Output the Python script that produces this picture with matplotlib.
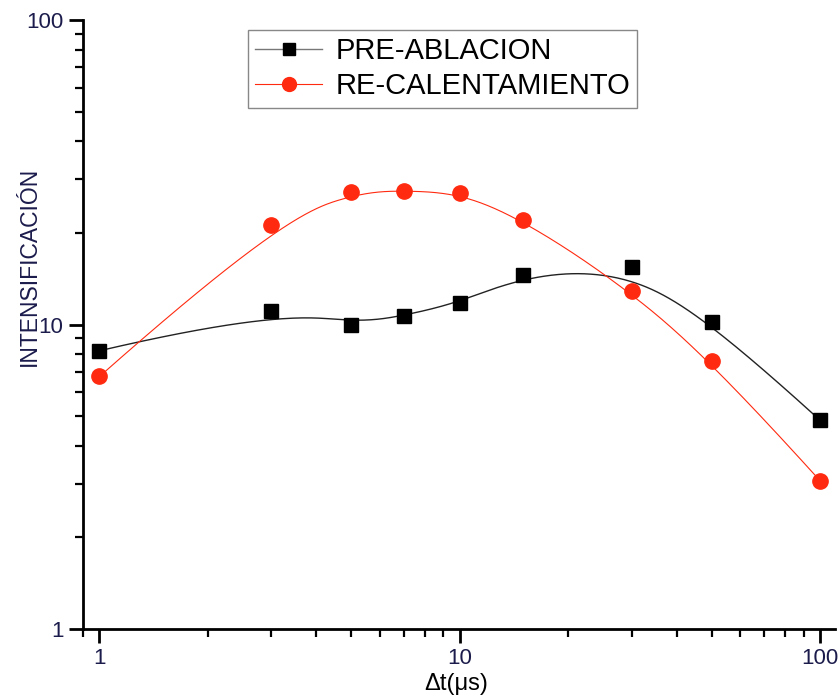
import numpy as np
import matplotlib
matplotlib.use('Agg')
import matplotlib.pyplot as plt
from matplotlib.ticker import LogLocator, NullFormatter, FixedLocator, FixedFormatter

plt.rcParams['font.family'] = ['Liberation Sans', 'DejaVu Sans']

# data
dt_us = [1, 3, 5, 7, 10, 15, 30, 50, 100]
pre_ablacion = [8.2, 11.1, 10.0, 10.7, 11.8, 14.5, 15.4, 10.2, 4.85]
re_calentamiento = [6.75, 21.3, 27.3, 27.5, 27.1, 22.1, 12.9, 7.6, 3.07]

NAVY = '#1c1c4c'
RED = '#ff2a10'


def bspline(xs, ys, n=400, k=3):
    # clamped cubic B-spline using the points as control points (log-log space),
    # like Origin's "B-Spline" line connect
    px = np.log10(xs)
    py = np.log10(ys)
    m = len(px)
    knots = np.concatenate([np.zeros(k), np.arange(m - k + 1), np.full(k, m - k)]).astype(float)
    t = np.linspace(0, m - k, n)
    t[-1] -= 1e-9

    def basis(i, d, t):
        if d == 0:
            return ((knots[i] <= t) & (t < knots[i + 1])).astype(float)
        out = np.zeros_like(t)
        den1 = knots[i + d] - knots[i]
        den2 = knots[i + d + 1] - knots[i + 1]
        if den1 > 0:
            out += (t - knots[i]) / den1 * basis(i, d - 1, t)
        if den2 > 0:
            out += (knots[i + d + 1] - t) / den2 * basis(i + 1, d - 1, t)
        return out

    bx = np.zeros(n)
    by = np.zeros(n)
    for i in range(m):
        b = basis(i, k, t)
        bx += b * px[i]
        by += b * py[i]
    return 10 ** bx, 10 ** by


fig = plt.figure(figsize=(8.4, 7.0), dpi=100)
ax = fig.add_axes([0.0988, 0.1014, 0.8952, 0.8700])

cx, cy = bspline(dt_us, pre_ablacion)
ax.plot(cx, cy, color='#222222', lw=1.0, zorder=2)
cx, cy = bspline(dt_us, re_calentamiento)
ax.plot(cx, cy, color=RED, lw=0.8, zorder=2)

ax.plot(dt_us, pre_ablacion, ls='none', marker='s', ms=10, color='black', zorder=3)
ax.plot(dt_us, re_calentamiento, ls='none', marker='o', ms=11, color=RED, zorder=3)

# legend proxies
h1, = ax.plot([], [], color='#777777', lw=1.0, marker='s', ms=9, mfc='black', mec='black')
h2, = ax.plot([], [], color=RED, lw=0.8, marker='o', ms=10, mfc=RED, mec=RED)
leg = ax.legend([h1, h2], ['PRE-ABLACION', 'RE-CALENTAMIENTO'],
                loc='upper left', bbox_to_anchor=(0.219, 0.984), fontsize=21,
                frameon=True, fancybox=False, edgecolor='#888888', framealpha=1,
                handlelength=2.3, handletextpad=0.45, borderpad=0.25, labelspacing=0.25,
                borderaxespad=0)
leg.get_frame().set_linewidth(1.0)

ax.set_xscale('log')
ax.set_yscale('log')
ax.set_xlim(0.9, 110)
ax.set_ylim(1, 100)

for s in ['top', 'right']:
    ax.spines[s].set_visible(False)
for s in ['left', 'bottom']:
    ax.spines[s].set_linewidth(2)

ax.xaxis.set_major_locator(FixedLocator([1, 10, 100]))
ax.xaxis.set_major_formatter(FixedFormatter(['1', '10', '100']))
ax.yaxis.set_major_locator(FixedLocator([1, 10, 100]))
ax.yaxis.set_major_formatter(FixedFormatter(['1', '10', '100']))
for a in (ax.xaxis, ax.yaxis):
    a.set_minor_locator(LogLocator(base=10, subs=np.arange(2, 10)))
    a.set_minor_formatter(NullFormatter())

ax.tick_params(which='major', direction='out', length=10, width=2, labelsize=16,
               labelcolor=NAVY, pad=4)
ax.tick_params(which='minor', direction='out', length=6, width=1.6)

ax.set_xlabel('\u0394t(\u03bcs)', fontsize=17)
ax.xaxis.set_label_coords(0.496, -0.072)
ax.set_ylabel('INTENSIFICACI\u00d3N', fontsize=16.5, color=NAVY)
ax.yaxis.set_label_coords(-0.056, 0.596)

fig.savefig('out.png', dpi=100)
